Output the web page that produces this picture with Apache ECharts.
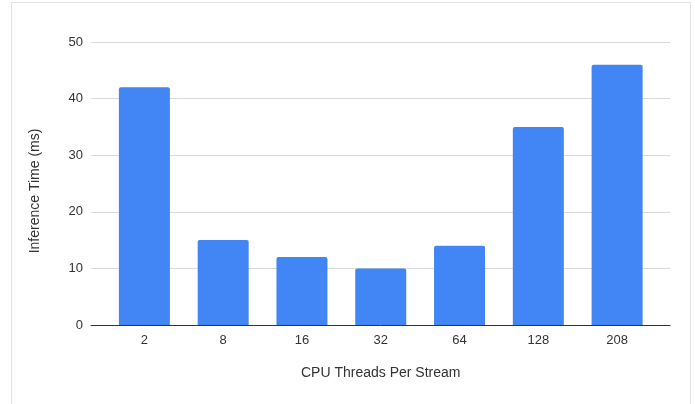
<!DOCTYPE html>
<html>
<head>
<meta charset="utf-8">
<script src="https://cdn.jsdelivr.net/npm/echarts@6/dist/echarts.min.js"></script>
<style>
  html, body { margin: 0; padding: 0; background: #fff; }
  #chart { width: 695px; height: 404px; }
</style>
</head>
<body>
<div id="chart"></div>
<script>
// CPU threads per inference stream vs. measured latency
const threadCounts = ['2', '8', '16', '32', '64', '128', '208'];
const inferenceMs = [42, 15, 12, 10, 14, 35, 46];
const yTicks = { min: 0, max: 50, step: 10 };

const textColor = '#333';
const font = 'Arial, "Liberation Sans", sans-serif';

const chart = echarts.init(document.getElementById('chart'), null, { renderer: 'canvas' });

chart.setOption({
  animation: false,
  backgroundColor: '#fff',
  graphic: [{
    type: 'rect',
    shape: { x: 11.5, y: 2.5, width: 679, height: 420 },
    style: { fill: 'none', stroke: '#e3e3e3', lineWidth: 1 },
    z: -1
  }],
  grid: [
    // wide grid carrying gridlines, baseline and y labels
    { left: 91, right: 25, top: 42, bottom: 79 },
    // inner grid carrying the bars and category labels
    { left: 105, right: 38.5, top: 42, bottom: 79 }
  ],
  xAxis: [
    {
      type: 'category', gridIndex: 0, data: threadCounts,
      axisLine: { show: true, lineStyle: { color: '#333', width: 1 } },
      axisTick: { show: false }, axisLabel: { show: false }, splitLine: { show: false }
    },
    {
      type: 'category', gridIndex: 1, data: threadCounts,
      axisLine: { show: false }, axisTick: { show: false },
      axisLabel: { color: textColor, fontSize: 13, fontFamily: font, margin: 9 },
      name: 'CPU Threads Per Stream', nameLocation: 'middle', nameGap: 41,
      nameTextStyle: { color: textColor, fontSize: 14, fontFamily: font }
    }
  ],
  yAxis: [
    {
      type: 'value', gridIndex: 0, min: yTicks.min, max: yTicks.max, interval: yTicks.step,
      axisLine: { show: false }, axisTick: { show: false },
      axisLabel: { color: textColor, fontSize: 13, fontFamily: font, margin: 8 },
      splitLine: { lineStyle: { color: '#d9d9d9', width: 1 } },
      name: 'Inference Time (ms)', nameLocation: 'middle', nameGap: 49, nameRotate: 90,
      nameTextStyle: { color: textColor, fontSize: 14, fontFamily: font, padding: [0, 15, 0, 0] }
    },
    {
      type: 'value', gridIndex: 1, min: yTicks.min, max: yTicks.max, interval: yTicks.step,
      show: false, splitLine: { show: false }
    }
  ],
  series: [{
    type: 'bar',
    xAxisIndex: 1, yAxisIndex: 1,
    data: inferenceMs,
    barWidth: 51,
    itemStyle: { color: '#4285f4', borderRadius: [2, 2, 0, 0] },
    z: 3
  }]
});
</script>
</body>
</html>
